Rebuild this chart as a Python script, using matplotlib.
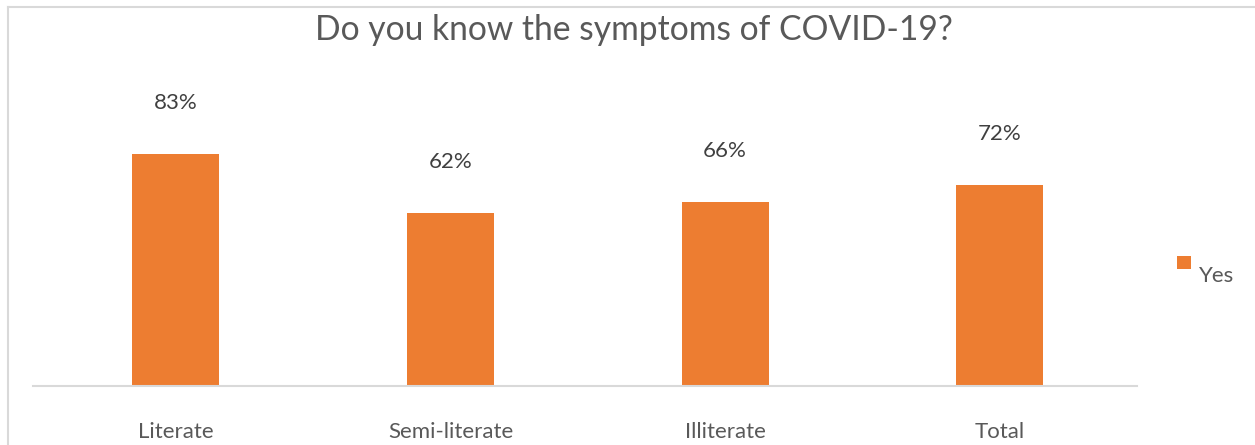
import matplotlib
matplotlib.use("Agg")
import matplotlib.pyplot as plt
from matplotlib.lines import Line2D
from matplotlib.patches import Rectangle

categories = ["Literate", "Semi-literate", "Illiterate", "Total"]
yes_values = [83, 62, 66, 72]
value_labels = ["83%", "62%", "66%", "72%"]
series_name = "Yes"
title = "Do you know the symptoms of COVID-19?"

W, H = 1255, 445
fig = plt.figure(figsize=(W / 100, H / 100), dpi=100)
plt.rcParams['font.family'] = ['Lato', 'DejaVu Sans']

orange = "#ED7D31"
# axes: x from 33 to 1137 px, y baseline at 386
left, right = 33, 1137
bottom_px = 386
top_px = 106.5  # 100% level
ax = fig.add_axes([left / W, (H - bottom_px) / H, (right - left) / W, (bottom_px - top_px) / H])
x = list(range(len(categories)))
ax.bar(x, yes_values, width=0.317, color=orange, zorder=2)
ax.set_xlim(-0.52, 3.50)
ax.set_ylim(0, 100)
for s in ["top", "right", "left"]:
    ax.spines[s].set_visible(False)
ax.spines["bottom"].set_color("#D9D9D9")
ax.spines["bottom"].set_linewidth(1.5)
ax.set_yticks([])
ax.set_xticks(x)
ax.set_xticklabels(categories, fontsize=16, color="#595959")
ax.tick_params(axis="x", length=0, pad=26)

for xi, v, lab in zip(x, yes_values, value_labels):
    ax.annotate(lab, (xi, v), xytext=(0, 41), textcoords="offset pixels",
                ha="center", va="bottom", fontsize=16, color="#404040",
                annotation_clip=False)

fig.text(634 / W, 1 - 30 / H, title, ha="center", va="center", fontsize=24.2, color="#595959")

# legend
fig.add_artist(Rectangle((1177 / W, 1 - 269 / H), 14 / W, 13 / H, transform=fig.transFigure,
                         facecolor=orange, edgecolor="none"))
fig.text(1199 / W, 1 - 276 / H, series_name, ha="left", va="center", fontsize=16, color="#595959")

# figure border (top and left only visible)
fig.add_artist(Line2D([8 / W, 1.0], [1 - 7 / H, 1 - 7 / H], transform=fig.transFigure,
                      color="#D9D9D9", linewidth=1.5))
fig.add_artist(Line2D([8 / W, 8 / W], [0, 1 - 7 / H], transform=fig.transFigure,
                      color="#D9D9D9", linewidth=1.5))

fig.savefig("out.png", dpi=100)
